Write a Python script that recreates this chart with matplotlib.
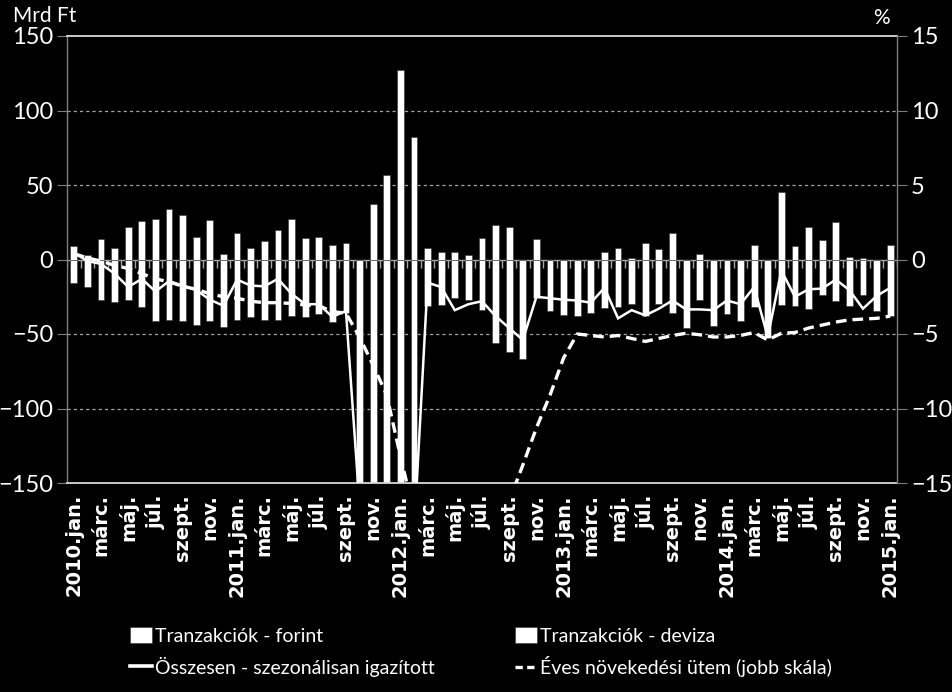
import matplotlib
matplotlib.use('Agg')
import matplotlib.pyplot as plt
import numpy as np
from matplotlib.lines import Line2D
from matplotlib.patches import Patch
from matplotlib import font_manager as fm

# ---------------- data ----------------
month_names = ["jan.", "febr.", "márc.", "ápr.", "máj.", "jún.", "júl.", "aug.", "szept.", "okt.", "nov.", "dec."]
years = [2010, 2011, 2012, 2013, 2014, 2015]

forint = [9, 3, 13.5, 8, 22, 26, 27.5, 34, 30, 15, 26.5, 4,
          18, 8, 12.5, 20, 27.5, 14.5, 15, 10, 11, 0, 37, 57,
          127, 82.5, 7.5, 4.7, 5, 2.7, 14.3, 23, 22, 0, 13.5, 0,
          0, 0, 0, 5, 8, 0.8, 11, 7, 18, 0, 4, 0,
          0, 0, 10, 0, 45.5, 9, 21.5, 13, 25.5, 2, 1, 0,
          10]

deviza = [-15.5, -18.5, -27.5, -28.5, -27, -32, -41, -40.5, -41, -44, -41, -45,
          -40.5, -38.5, -40.5, -40.5, -38, -38.5, -36.5, -42, -36, -175, -240, -290,
          -310, -230, -31.5, -30.5, -26, -27.5, -34, -56, -62, -66.5, -26, -34.5,
          -37, -38, -36, -32.5, -32, -30, -38, -30, -36, -46, -27, -44.5,
          -36.5, -41, -32, -52.5, -30.5, -31, -33.5, -24, -28, -31.5, -23.5, -34.5,
          -38]

total_sa = [4.5, -1, -3, -9.5, -18.5, -13, -21.5, -14.5, -17.5, -20.5, -27, -31,
            -13.5, -17.5, -18, -13, -23, -30, -30, -38.5, -34.5, -165, -240, -290,
            -300, -185, -15.5, -18.5, -34, -30, -28, -38, -46, -54, -25, -26,
            -27, -27.5, -29, -19, -39.5, -34, -37.5, -33, -27.5, -33.5, -33.5, -34,
            -27.5, -30, -18.5, -52, -7.5, -25, -20, -19.5, -13.5, -20.5, -33, -24.5,
            -19]

growth = [0.4, 0.1, -0.1, -0.4, -0.6, -0.95, -1.3, -1.5, -1.8, -2.0, -2.3, -2.5,
          -2.6, -2.8, -2.9, -2.9, -2.95, -3.05, -3.1, -3.5, -3.6, -5.2, -7.1, -9.1,
          -13.2, -17, -18, -19, -19.5, -20, -19.5, -18.5, -16.2, -13.8, -11.3, -9.1,
          -6.6, -5.0, -5.1, -5.2, -5.1, -5.3, -5.5, -5.3, -5.1, -4.95, -5.05, -5.2,
          -5.2, -5.1, -4.9, -5.4, -4.95, -4.9, -4.6, -4.4, -4.2, -4.05, -4.0, -3.95,
          -3.8]

left_ticks = [-150, -100, -50, 0, 50, 100, 150]
right_ticks = [-15, -10, -5, 0, 5, 10, 15]

legend_labels = ["Tranzakciók - forint", "Tranzakciók - deviza",
                 "Összesen - szezonálisan igazított", "Éves növekedési ütem (jobb skála)"]

# ---------------- fonts ----------------
names = {f.name for f in fm.fontManager.ttflist}
NARROW = 'Liberation Sans Narrow' if 'Liberation Sans Narrow' in names else 'Lato'

# ---------------- figure ----------------
n = len(forint)
x = np.arange(n)
cat_labels = []
for i in range(n):
    y, m = years[i // 12], i % 12
    cat_labels.append(f"{y}.{month_names[m]}" if m == 0 else month_names[m])

fig = plt.figure(figsize=(9.52, 6.92), dpi=100, facecolor='black')
W, H = 952, 692
ax = fig.add_axes([67 / W, 1 - 483 / H, (897 - 67) / W, (483 - 36) / H])
ax.set_facecolor('black')

fo = np.array(forint, float)
de = np.array(deviza, float)
de_bottom = np.where(de < 0, np.minimum(fo, 0), np.maximum(fo, 0))

ax.bar(x, fo, width=0.5, color='white', edgecolor='#303030', linewidth=0.4, zorder=2)
ax.bar(x, de, bottom=de_bottom, width=0.5, color='white', edgecolor='#303030', linewidth=0.4, zorder=2)
ax.plot(x, total_sa, color='white', lw=1.8, zorder=4, solid_joinstyle='miter')

ax.set_xlim(-0.5, n - 0.5)
ax.set_ylim(left_ticks[0], left_ticks[-1])
ax.set_yticks(left_ticks)

# grid and zero line
for v in left_ticks[1:-1]:
    if v != 0:
        ax.axhline(v, color='#a6a6a6', lw=0.9, ls=(0, (2.5, 2.5)), zorder=1)
ax.axhline(0, color='#a6a6a6', lw=1.0, zorder=1.5)
ax.vlines(np.arange(n + 1) - 0.5, 0, -5.5, color='#a6a6a6', lw=1.0, zorder=1.5)

# spines
for s in ['left', 'right']:
    ax.spines[s].set_color('#7f7f7f')
    ax.spines[s].set_linewidth(1.0)
for s in ['top', 'bottom']:
    ax.spines[s].set_color('#d9d9d9')
    ax.spines[s].set_linewidth(1.3)
ax.spines['right'].set_visible(False)

ax.tick_params(axis='y', which='both', direction='out', length=7, color='#7f7f7f',
               labelcolor='white', labelsize=17, pad=3)
for t in ax.get_yticklabels():
    t.set_fontfamily(NARROW)

ax.set_xticks(x[::2])
ax.set_xticklabels(cat_labels[::2], rotation=90, color='white', fontsize=14,
                   fontweight='bold', family='DejaVu Sans')
ax.tick_params(axis='x', length=0, pad=8)

# right axis
ax2 = ax.twinx()
ax2.plot(x, growth, color='white', lw=2.4, ls=(0, (3.2, 1.8)), zorder=5)
ax2.set_ylim(right_ticks[0], right_ticks[-1])
ax2.set_yticks(right_ticks)
for s in ['left', 'top', 'bottom']:
    ax2.spines[s].set_visible(False)
ax2.spines['right'].set_color('#7f7f7f')
ax2.spines['right'].set_linewidth(1.0)
ax2.tick_params(axis='y', direction='out', length=7, color='#7f7f7f',
                labelcolor='white', labelsize=17, pad=3)
for t in ax2.get_yticklabels():
    t.set_fontfamily(NARROW)

# units
fig.text(13 / W, 1 - 16 / H, "Mrd Ft", color='white', fontsize=15, family=NARROW,
         ha='left', va='center')
fig.text(890 / W, 1 - 18 / H, "%", color='white', fontsize=15, family=NARROW,
         ha='right', va='center')

# legends
h_bar = Patch(facecolor='white', edgecolor='#303030', linewidth=0.4)
h_sol = Line2D([], [], color='white', lw=2.6)
h_dash = Line2D([], [], color='white', lw=2.4, ls=(0, (2.2, 1.3)))
common = dict(frameon=False, labelcolor='white', prop={'family': NARROW, 'size': 14},
              handlelength=1.15, handleheight=0.9, handletextpad=0.15,
              labelspacing=0.6, borderpad=0, borderaxespad=0, loc='upper left')
leg1 = fig.legend([h_bar, h_sol], [legend_labels[0], legend_labels[2]],
                  bbox_to_anchor=(130 / W, 1 - 627 / H), **common)
leg2 = fig.legend([h_bar, h_dash], [legend_labels[1], legend_labels[3]],
                  bbox_to_anchor=(515 / W, 1 - 627 / H), **common)

fig.savefig('out.png', dpi=100, facecolor='black')
